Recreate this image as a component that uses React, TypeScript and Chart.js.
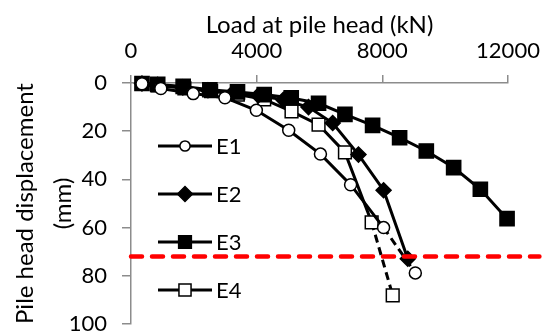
import React, { useEffect, useRef } from "react";
import { Chart, registerables } from "chart.js";
import { drawPoint } from "chart.js/helpers";

Chart.register(...registerables);

const e1Load = [350, 950, 1980, 2990, 3990, 5020, 6030, 6990, 8040, 9050];
const e1Disp = [0.3, 2.3, 4.4, 6.1, 11.3, 19.6, 29.5, 42.2, 60.0, 78.8];

const e2Load = [350, 850, 1650, 2450, 3250, 4050, 4850, 5650, 6420, 7240, 8040, 8810];
const e2Disp = [0.2, 0.8, 1.8, 3.0, 4.0, 5.2, 7.0, 10.0, 16.6, 29.7, 44.5, 72.9];

const e3Load = [350, 850, 1660, 2510, 3390, 4240, 5100, 5970, 6810, 7690, 8550, 9400, 10270, 11120, 11970];
const e3Disp = [0.2, 0.6, 1.4, 2.8, 3.7, 4.8, 6.2, 8.4, 13.0, 17.6, 22.7, 28.2, 35.1, 44.1, 56.3];

const e4Load = [350, 850, 1700, 2550, 3400, 4240, 5110, 5970, 6810, 7660, 8330];
const e4Disp = [0.3, 1.0, 2.2, 3.4, 4.8, 6.8, 11.8, 17.3, 28.8, 57.8, 88.1];

const limitLoad = [0, 13000];
const limitDisp = [72, 72];

const seriesNames = ["E1", "E2", "E3", "E4"];
const xTitle = "Load at pile head (kN)";
const yTitle = ["Pile head displacement", "(mm)"];
const xMin = 0, xMax = 12000, xStep = 4000;
const yMin = 0, yMax = 100, yStep = 20;

const toPts = (xs: number[], ys: number[]) => xs.map((x, i) => ({ x, y: ys[i] }));

const FONT = "Lato";

export default function App() {
  const ref = useRef<HTMLCanvasElement | null>(null);

  useEffect(() => {
    document.body.style.margin = "0";
    const canvas = ref.current;
    if (!canvas) return;

    const dashLast = (n: number) => ({
      borderDash: (ctx: any) => (ctx.p1DataIndex === n - 1 ? [8, 5] : undefined),
    });

    const common = {
      showLine: true,
      borderColor: "#000",
      borderWidth: 3,
      pointBorderColor: "#000",
      pointBorderWidth: 1.5,
      tension: 0,
      clip: 14,
    };

    const legendScale = [0.85, 1, 0.9, 0.95];

    const legendPlugin = {
      id: "insideLegend",
      afterDraw(chart: any) {
        const ctx = chart.ctx;
        const rows = [146, 194, 242, 290];
        ctx.save();
        for (let i = 0; i < 4; i++) {
          const ds = chart.data.datasets[i];
          const y = rows[i];
          ctx.strokeStyle = "#000";
          ctx.lineWidth = 3;
          ctx.setLineDash([]);
          ctx.beginPath();
          ctx.moveTo(158, y);
          ctx.lineTo(212, y);
          ctx.stroke();
          ctx.fillStyle = ds.pointBackgroundColor;
          ctx.strokeStyle = "#000";
          ctx.lineWidth = 1.5;
          drawPoint(ctx, { pointStyle: ds.pointStyle, radius: ds.pointRadius * legendScale[i], rotation: 0, borderWidth: 1.5 }, 185, y);
          ctx.fillStyle = "#000";
          ctx.font = `22px ${FONT}`;
          ctx.textBaseline = "middle";
          ctx.textAlign = "left";
          ctx.fillText(ds.label, 216, y + 1);
        }
        ctx.restore();
      },
    };

    const chart = new Chart(canvas, {
      type: "scatter",
      data: {
        datasets: [
          {
            ...common,
            label: seriesNames[0],
            data: toPts(e1Load, e1Disp),
            pointStyle: "circle",
            pointRadius: 6,
            pointBackgroundColor: "#fff",
            segment: dashLast(e1Load.length),
          },
          {
            ...common,
            label: seriesNames[1],
            data: toPts(e2Load, e2Disp),
            pointStyle: "rectRot",
            pointRadius: 7.5,
            pointBackgroundColor: "#000",
          },
          {
            ...common,
            label: seriesNames[2],
            data: toPts(e3Load, e3Disp),
            pointStyle: "rect",
            pointRadius: 10,
            pointBackgroundColor: "#000",
          },
          {
            ...common,
            label: seriesNames[3],
            data: toPts(e4Load, e4Disp),
            pointStyle: "rect",
            pointRadius: 9,
            pointBackgroundColor: "#fff",
            segment: dashLast(e4Load.length),
          },
          {
            label: "limit",
            data: toPts(limitLoad, limitDisp),
            showLine: true,
            borderColor: "#ff0000",
            borderWidth: 4.5,
            borderDash: [11, 10],
            borderCapStyle: "round",
            pointRadius: 0,
            clip: false,
            order: -1,
          } as any,
        ],
      },
      options: {
        animation: false,
        responsive: false,
        layout: { padding: { left: 0, top: 0, right: 41, bottom: 12 } },
        font: { family: FONT, size: 22 },
        plugins: {
          legend: { display: false },
          tooltip: { enabled: false },
        },
        scales: {
          x: {
            type: "linear",
            position: "top",
            min: xMin,
            max: xMax,
            ticks: {
              stepSize: xStep,
              color: "#000",
              font: { family: FONT, size: 22 },
              padding: 11,
              maxRotation: 0,
              callback: (v: any) => String(v),
            },
            grid: { drawOnChartArea: false, drawTicks: true, tickLength: 8, color: "#8c8c8c", lineWidth: 1.5 },
            border: { display: true, color: "#8c8c8c", width: 1.5 },
            title: {
              display: true,
              text: xTitle,
              color: "#000",
              font: { family: FONT, size: 24 },
              padding: { top: 11, bottom: 0 },
            },
            afterFit: (s: any) => {
              s.height = 83;
              s.paddingLeft = 0;
              s.paddingRight = 0;
              s.paddingTop = 0;
              s.paddingBottom = 0;
            },
          },
          y: {
            type: "linear",
            reverse: true,
            min: yMin,
            max: yMax,
            ticks: {
              stepSize: yStep,
              color: "#000",
              font: { family: FONT, size: 22 },
              padding: 15,
              callback: (v: any) => String(v),
            },
            grid: { drawOnChartArea: false, drawTicks: true, tickLength: 9, color: "#8c8c8c", lineWidth: 1.5 },
            border: { display: true, color: "#8c8c8c", width: 1.5 },
            title: {
              display: true,
              text: yTitle,
              color: "#000",
              font: { family: FONT, size: 24, lineHeight: 1.55 },
              padding: { top: 7, bottom: 0 },
            },
            afterFit: (s: any) => {
              s.width = 131;
              s.paddingLeft = 0;
              s.paddingRight = 0;
              s.paddingTop = 0;
              s.paddingBottom = 0;
            },
          },
        },
      } as any,
      plugins: [legendPlugin],
    });

    return () => chart.destroy();
  }, []);

  return (
    <div style={{ width: 549, height: 336 }}>
      <canvas ref={ref} width={549} height={336} style={{ display: "block" }} />
    </div>
  );
}
